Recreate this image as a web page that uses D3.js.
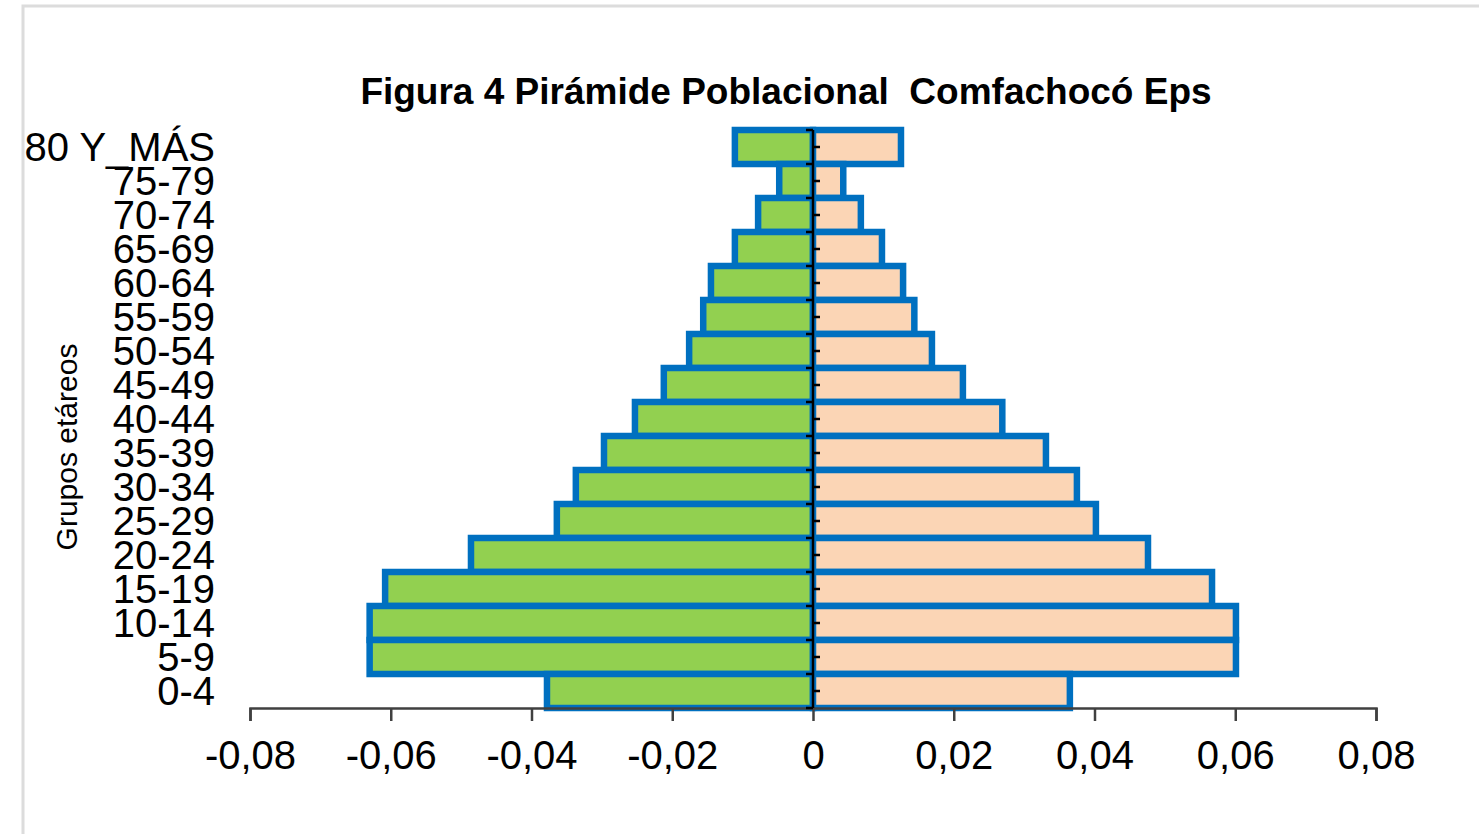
<!DOCTYPE html>
<html>
<head>
<meta charset="utf-8">
<script src="https://cdn.jsdelivr.net/npm/d3@7"></script>
<style>
  html, body { margin: 0; padding: 0; background: #fff; }
  svg { display: block; font-family: "Liberation Sans", Arial, sans-serif; }
</style>
</head>
<body>
<svg id="chart" width="1479" height="834"></svg>
<script>
// age groups, top to bottom
const groups = ['80 Y_MÁS', '75-79', '70-74', '65-69', '60-64', '55-59', '50-54', '45-49',
  '40-44', '35-39', '30-34', '25-29', '20-24', '15-19', '10-14', '5-9', '0-4'];
// left side (green), shown as negative values
const leftValues = [-0.0111, -0.0048, -0.0078, -0.0111, -0.0145, -0.0156, -0.0176, -0.0212,
  -0.0253, -0.0297, -0.0337, -0.0364, -0.0486, -0.0608, -0.063, -0.063, -0.0378];
// right side (peach)
const rightValues = [0.0125, 0.0043, 0.0068, 0.0098, 0.0128, 0.0144, 0.0169, 0.0213,
  0.0269, 0.0331, 0.0375, 0.0402, 0.0476, 0.0567, 0.0601, 0.0601, 0.0365];
const xTicks = [-0.08, -0.06, -0.04, -0.02, 0, 0.02, 0.04, 0.06, 0.08];

const title = 'Figura 4 Pirámide Poblacional  Comfachocó Eps';
const yTitle = 'Grupos etáreos';

const style = {
  width: 1479,
  height: 834,
  left: 250,
  right: 1376,
  top: 130,
  bottom: 708,
  green: '#92d050',
  peach: '#fbd5b5',
  border: '#0070c0'
};

const svg = d3.select('#chart');

// chart area frame
svg.append('rect')
  .attr('x', 23).attr('y', 6)
  .attr('width', 1600).attr('height', 1000)
  .attr('fill', 'none')
  .attr('stroke', '#dcdcdc')
  .attr('stroke-width', 3);

const x = d3.scaleLinear().domain([-0.08, 0.08]).range([style.left, style.right]);
const y = d3.scaleBand().domain(groups).range([style.top, style.bottom]).padding(0);

const locale = d3.formatLocale({ decimal: ',', thousands: '.', grouping: [3], currency: ['$', ''], minus: '-' });
const fmt = locale.format('.2f');

// bars
const rows = groups.map((g, i) => ({ group: g, left: leftValues[i], right: rightValues[i] }));

const bars = svg.append('g').attr('class', 'bars');
bars.selectAll('rect.left')
  .data(rows)
  .join('rect')
  .attr('class', 'left')
  .attr('x', (d) => x(d.left))
  .attr('y', (d) => y(d.group))
  .attr('width', (d) => x(0) - x(d.left))
  .attr('height', y.bandwidth())
  .attr('fill', style.green)
  .attr('stroke', style.border)
  .attr('stroke-width', 6.5);

bars.selectAll('rect.right')
  .data(rows)
  .join('rect')
  .attr('class', 'right')
  .attr('x', x(0))
  .attr('y', (d) => y(d.group))
  .attr('width', (d) => x(d.right) - x(0))
  .attr('height', y.bandwidth())
  .attr('fill', style.peach)
  .attr('stroke', style.border)
  .attr('stroke-width', 6.5);

// x axis
const xAxis = svg.append('g')
  .attr('transform', `translate(0,${style.bottom})`)
  .call(d3.axisBottom(x).tickValues(xTicks).tickSize(13).tickPadding(20)
    .tickFormat((d) => (d === 0 ? '0' : fmt(d))));
xAxis.select('.domain').attr('stroke', '#404040').attr('stroke-width', 2.5);
xAxis.selectAll('.tick line').attr('stroke', '#404040').attr('stroke-width', 2.5);
xAxis.selectAll('.tick text')
  .attr('fill', '#000')
  .style('font-size', '40px')
  .style('font-family', '"Liberation Sans", Arial, sans-serif');

// vertical category axis at zero
const zeroAxis = svg.append('g');
zeroAxis.append('line')
  .attr('x1', x(0)).attr('x2', x(0))
  .attr('y1', style.top).attr('y2', style.bottom)
  .attr('stroke', '#000').attr('stroke-width', 2.5);
zeroAxis.selectAll('line.major')
  .data(groups.concat([null]))
  .join('line')
  .attr('class', 'major')
  .attr('x1', x(0) - 7).attr('x2', x(0))
  .attr('y1', (d) => (d === null ? style.bottom : y(d)))
  .attr('y2', (d) => (d === null ? style.bottom : y(d)))
  .attr('stroke', '#000').attr('stroke-width', 2.5);
zeroAxis.selectAll('line.minor')
  .data(groups)
  .join('line')
  .attr('class', 'minor')
  .attr('x1', x(0)).attr('x2', x(0) + 7)
  .attr('y1', (d) => y(d) + y.bandwidth() / 2)
  .attr('y2', (d) => y(d) + y.bandwidth() / 2)
  .attr('stroke', '#000').attr('stroke-width', 2.5);

// category labels
svg.append('g')
  .selectAll('text')
  .data(groups)
  .join('text')
  .attr('x', 215)
  .attr('y', (d) => y(d) + y.bandwidth() / 2)
  .attr('dy', '0.36em')
  .attr('text-anchor', 'end')
  .style('font-size', '40px')
  .attr('fill', '#000')
  .text((d) => d);

// axis title
svg.append('text')
  .attr('transform', 'translate(77,447) rotate(-90)')
  .attr('text-anchor', 'middle')
  .style('font-size', '30px')
  .attr('fill', '#000')
  .text(yTitle);

// chart title
svg.append('text')
  .attr('x', 786)
  .attr('y', 104)
  .attr('text-anchor', 'middle')
  .style('font-size', '37px')
  .style('font-weight', 'bold')
  .style('white-space', 'pre')
  .attr('fill', '#000')
  .text(title);
</script>
</body>
</html>
